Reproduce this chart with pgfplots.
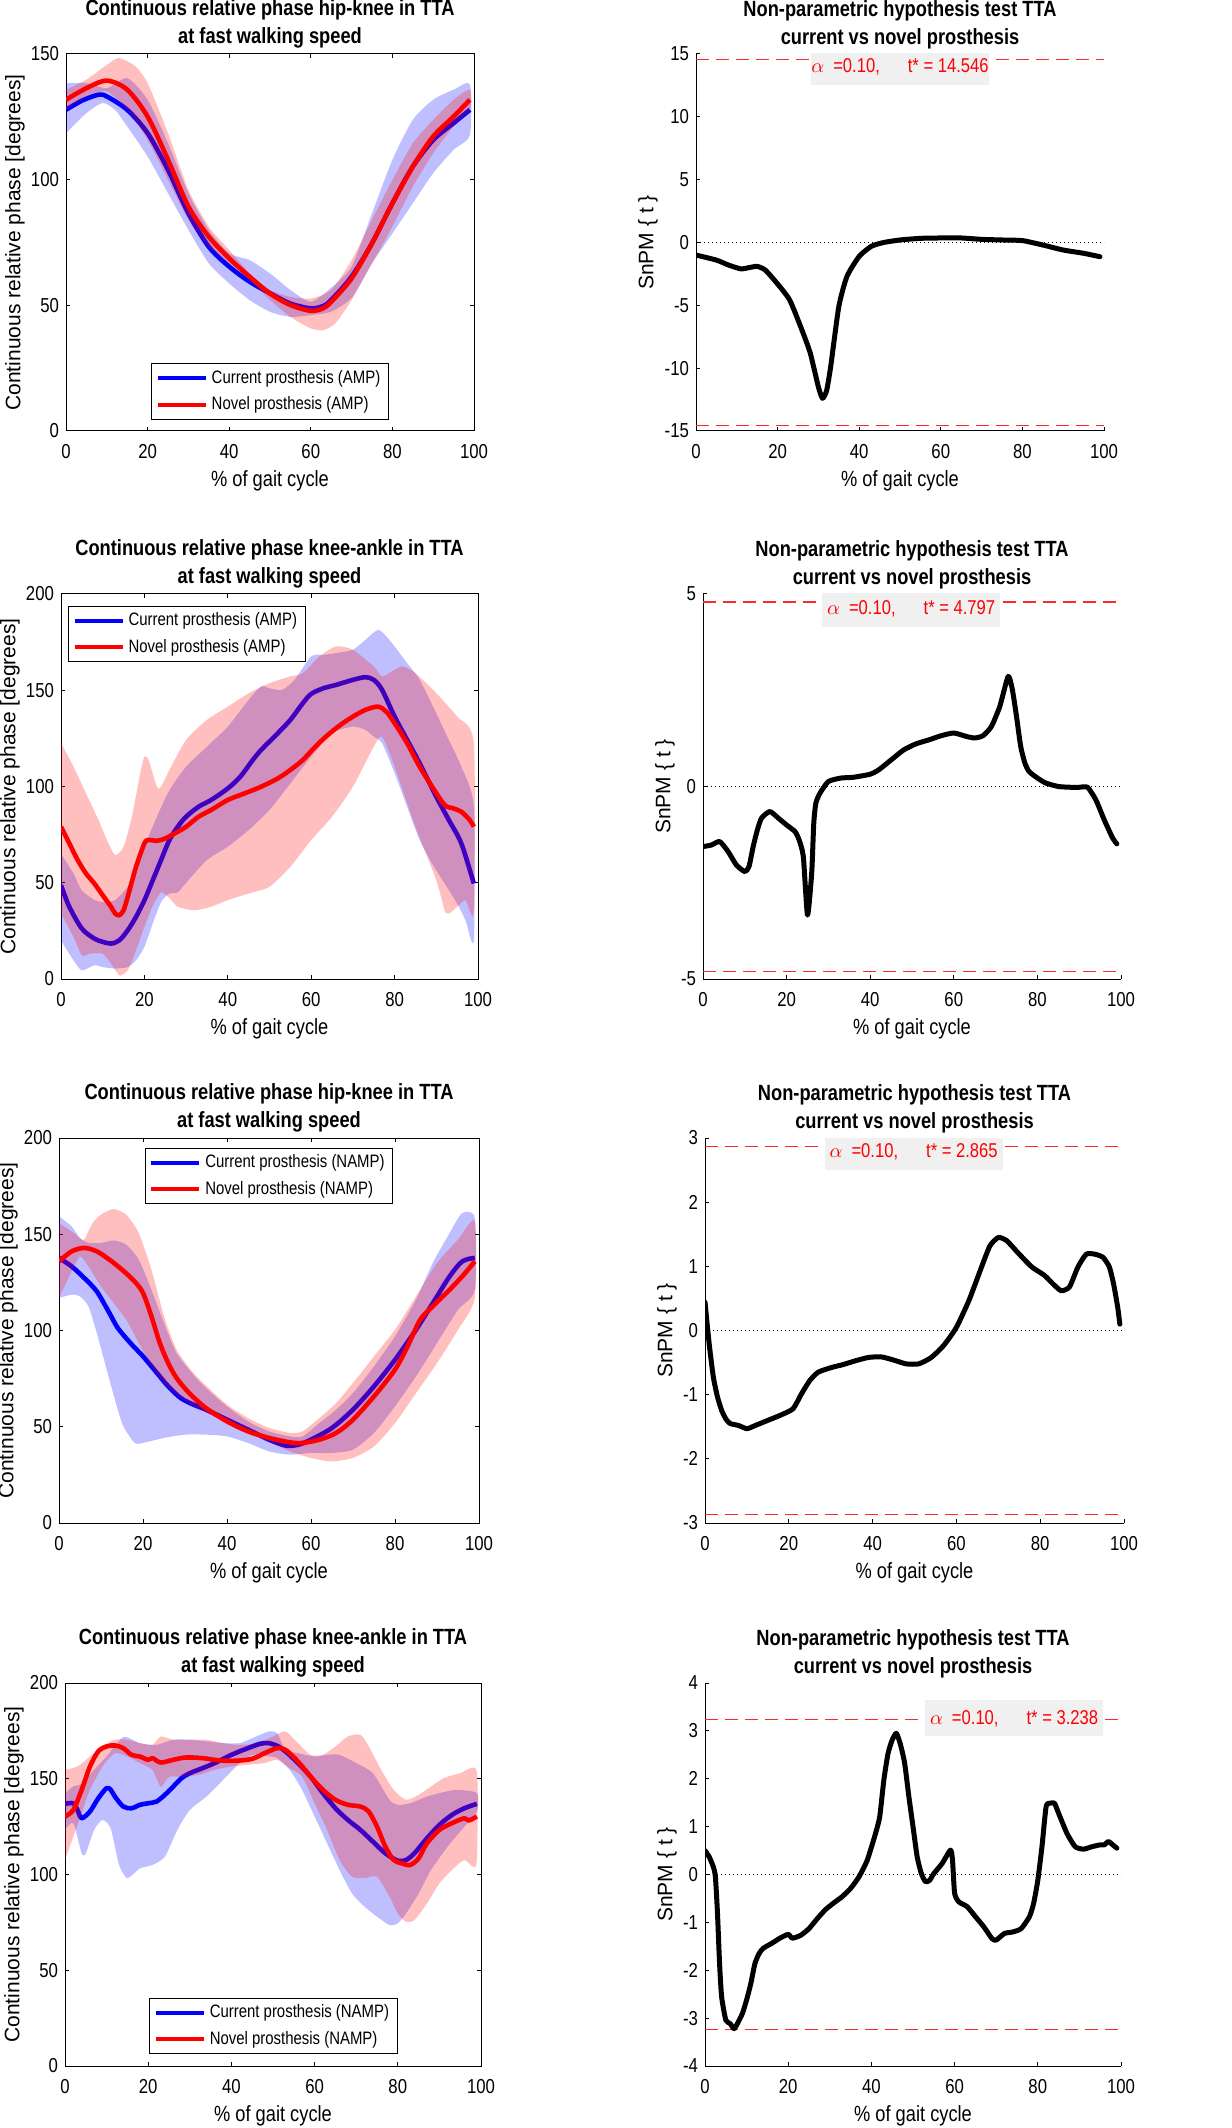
\documentclass[border=0pt]{standalone}
\usepackage{pgfplots}
\pgfplotsset{compat=1.18}
\usepackage{fontspec}
\setmainfont{Liberation Sans}[FakeStretch=0.83]
\newfontfamily\ylabfont{Liberation Sans}
\definecolor{boxgray}{RGB}{240,240,240}
\definecolor{thr}{RGB}{255,40,40}

\tikzset{tbox/.style={fill=boxgray, text=red, font=\fontsize{10}{12}\selectfont, minimum width=89pt, minimum height=18pt, inner sep=0pt}}

\pgfplotsset{
  common/.style={
    scale only axis,
    xmin=0, xmax=100, xtick={0,20,40,60,80,100},
    tick align=inside, major tick length=2pt,
    every tick/.style={black, line width=0.5pt},
    axis line style={black, line width=0.5pt},
    tick label style={font=\fontsize{10.1}{12}\selectfont},
    xticklabel style={yshift=-3pt},
    /pgf/number format/assume math mode=true,
    xlabel={\% of gait cycle},
    every axis x label/.style={at={([yshift=-25pt]axis description cs:0.5,0)}, anchor=center, font=\fontsize{11}{13}\selectfont},
    every axis title/.style={at={([yshift=2.5pt]axis description cs:0.5,1)}, anchor=south, align=center, inner sep=0pt, font=\bfseries\fontsize{11}{14}\selectfont},
  },
  leftpanel/.style={
    common, ymin=0,
    ylabel={Continuous relative phase [degrees]},
    every axis y label/.style={at={([xshift=-25.5pt]axis description cs:0,0.5)}, rotate=90, anchor=center, font=\ylabfont\fontsize{10.5}{12}\selectfont},
    legend style={font=\fontsize{9}{10}\selectfont, draw=black, line width=0.5pt, fill=white, inner xsep=2pt, inner ysep=1.2pt, row sep=1.2pt, cells={anchor=west}},
    legend image code/.code={\draw[##1, line width=2pt] (0pt,0pt) -- (24pt,0pt);},
  },
  rightpanel/.style={
    common,
    axis x line*=bottom, axis y line*=left,
    xtick pos=left, ytick pos=left, tick align=inside,
    axis line style={-, black, line width=0.5pt},
    ylabel={SnPM \{ t \}},
    every axis y label/.style={at={([xshift=-#1]axis description cs:0,0.5)}, rotate=90, anchor=center, font=\ylabfont\fontsize{10.5}{12}\selectfont},
  },
  bband/.style={draw=none, fill=blue, fill opacity=0.25, forget plot, smooth, tension=0.4},
  rband/.style={draw=none, fill=red, fill opacity=0.25, forget plot, smooth, tension=0.4},
  bline/.style={blue, line width=2.3pt, smooth, tension=0.5, line join=round},
  rline/.style={red, line width=2.3pt, smooth, tension=0.5, line join=round},
  snpm/.style={black, line width=2.5pt, smooth, tension=0.35, line join=round, line cap=round},
  thrline/.style={thr, line width=0.7pt, dash pattern=on 6.5pt off 3.5pt, forget plot},
  zline/.style={black, line width=0.55pt, dash pattern=on 0.6pt off 1.4pt, forget plot},
}

\begin{document}
\begin{tikzpicture}
\useasboundingbox (0,0) rectangle (615.5pt,-1064pt);

% ---------------- Panel 1 ----------------
\begin{axis}[leftpanel, at={(33pt,-27pt)}, anchor=north west, width=204pt, height=188.5pt,
  ymax=150, ytick={0,50,100,150},
  title={Continuous relative phase hip-knee in TTA\\at fast walking speed},
  legend style={at={(0.5,0.03)}, anchor=south}]
\addplot[bband] coordinates {(0,138.4)(5,138.4)(10,136.4)(15,140.4)(20,131.8)(25,114.5)(30,94.6)(35,80)(40,70.7)(45,68)(50,62.7)(55,56.1)(60,51.4)(65,57)(70,65.4)(75,86.6)(80,107.9)(85,123.8)(90,131.8)(95,135.8)(99,137.8)
 (99,117.8)(95,111.9)(90,102.6)(85,90.6)(80,78.6)(75,66.7)(70,53)(65,47.5)(60,46.1)(55,45.4)(50,47.4)(45,52.1)(40,58.7)(35,66.7)(30,80)(25,94.6)(20,109.2)(15,121.2)(12,127.8)(9,130.5)(5,126.5)(0,118.5)} -- cycle;
\addplot[bline] coordinates {(0,127.8)(4,131.5)(8,133.8)(10,133.1)(15,127.8)(20,118.5)(25,103.9)(30,86.6)(35,73.3)(40,65.4)(45,59.4)(50,54.8)(55,50.7)(60,48.8)(63,49.7)(65,52.1)(70,61.4)(75,74.7)(80,90.6)(85,105.2)(90,115.8)(95,122.5)(99,127.8)};
\addlegendentry{Current prosthesis (AMP)}
\addplot[rband] coordinates {(0,135.8)(5,139.8)(10,145.7)(13,148.4)(17,145.1)(20,138.4)(25,118.5)(30,95.9)(35,81.3)(40,72)(45,62.7)(50,56.1)(55,53.4)(60,52.7)(65,56.1)(70,68)(75,84)(80,99.9)(85,114.5)(90,123.8)(95,131.8)(99,135.8)
 (99,127.8)(95,121.2)(90,110.5)(85,97.2)(80,81.3)(75,66.7)(70,52.1)(66,42.8)(63,40.1)(60,40.8)(55,45.4)(50,52.1)(45,60.1)(40,66.7)(35,73.3)(30,84)(25,99.9)(20,115.8)(15,127.8)(10,135.1)(5,133.1)(0,127.8)} -- cycle;
\addplot[rline] coordinates {(0,131.8)(5,136.4)(10,139.4)(15,135.8)(20,125.1)(25,107.9)(30,89.3)(35,77.3)(40,68.7)(45,61.4)(50,54.7)(55,50.1)(60,47.8)(63,48.8)(65,51.4)(70,60.7)(75,74.7)(80,90.6)(85,105.2)(90,117.2)(95,125.1)(99,131.8)};
\addlegendentry{Novel prosthesis (AMP)}
\end{axis}

% ---------------- Panel 2 ----------------
\begin{axis}[rightpanel=24pt, at={(348pt,-27pt)}, anchor=north west, width=204pt, height=188.5pt,
  ymin=-15, ymax=15, ytick={-15,-10,-5,0,5,10,15},
  title={Non-parametric hypothesis test TTA\\current vs novel prosthesis}]
\addplot[zline] coordinates {(0,0)(100,0)};
\addplot[thrline] coordinates {(0,14.546)(100,14.546)};
\addplot[thrline] coordinates {(0,-14.546)(100,-14.546)};
\addplot[snpm] coordinates {(0,-1.0)(5,-1.4)(8,-1.8)(11,-2.1)(13,-2.0)(15,-1.9)(17,-2.2)(20,-3.3)(23,-4.6)(26,-7.0)(28,-8.8)(30,-11.5)(31,-12.4)(32,-11.8)(33,-9.9)(35,-5.1)(37,-2.7)(40,-1.1)(43,-0.3)(46,0)(50,0.2)(55,0.33)(60,0.36)(65,0.36)(70,0.25)(75,0.2)(80,0.15)(85,-0.2)(90,-0.6)(95,-0.86)(99,-1.13)};
\node[tbox] at (axis cs:50,14) {$\alpha$\hspace{0.45em}=0.10,\hspace{1.4em}t* = 14.546};
\end{axis}

% ---------------- Panel 3 ----------------
\begin{axis}[leftpanel, at={(30.5pt,-297pt)}, anchor=north west, width=208.5pt, height=192.5pt,
  ymax=200, ytick={0,50,100,150,200},
  title={Continuous relative phase knee-ankle in TTA\\at fast walking speed},
  legend style={at={(0.017,0.969)}, anchor=north west}]
\addplot[bband] coordinates {(0,65)(3,54.8)(5,46)(8,41)(10,40)(13,41)(16,48)(18,56.5)(20,68.7)(23,84.3)(26,98)(30,110.3)(35,120.7)(40,131.1)(45,145)(48,152)(50,151)(53,150.2)(56,155.4)(60,167.6)(63,168.4)(66,169.3)(70,171)(73,176.2)(76,181.4)(78,178)(80,172.8)(83,164.1)(86,155.4)(90,138)(93,124.2)(96,110.3)(99,89.5)
 (99,20.1)(97,30.5)(95,39.2)(92,49.6)(89,60)(86,72.2)(83,89.5)(80,106.9)(77,122.5)(75,125.9)(73,129.4)(70,131.1)(65,127.7)(60,115.5)(55,101.6)(50,87.8)(45,77.4)(40,68.7)(35,61.8)(30,50)(28,45)(26,44.4)(24,40)(22,28.8)(20,16.7)(18,9.7)(16,6.2)(13,5.4)(10,6.2)(8,7.1)(5,4.5)(3,9.7)(0,20)} -- cycle;
\addplot[bline] coordinates {(0,48.7)(2,37.5)(5,26.2)(8,21)(10,19.3)(12,18.4)(14,20.1)(16,25.3)(18,32.3)(20,40.9)(22,51.3)(24,61.8)(26,72.2)(28,79.1)(30,84.3)(33,89.5)(36,93)(40,99)(43,105.1)(46,113.8)(48,119)(52,127.7)(55,134.6)(58,143.3)(60,148.1)(63,151.1)(66,152.8)(70,155.4)(73,156.8)(75,155.4)(77,150.2)(80,136.3)(83,124.2)(86,112.1)(90,94.7)(93,82.6)(96,70.4)(99,49.6)};
\addlegendentry{Current prosthesis (AMP)}
\addplot[rband] coordinates {(0,122.5)(3,110.3)(6,96.4)(9,82.6)(11,72.2)(13,64.4)(15,68.7)(17,84.3)(19,106.9)(20,115.5)(21,113.8)(23,99.9)(24,99.9)(26,108.6)(30,124.2)(35,134.6)(40,141.5)(45,148.4)(50,153.7)(55,157.2)(58,158.9)(62,167.6)(66,172.8)(70,171)(75,162.4)(77,157.2)(80,160.7)(82,162.4)(85,158.9)(90,148.4)(95,136.3)(99,122.5)
 (99,35.7)(97,41)(95,37.5)(93,34)(92,35.7)(90,51.3)(85,79.1)(80,110.3)(77,125.9)(75,120.7)(70,99.9)(65,84.3)(60,72.2)(55,58.3)(50,47.9)(45,44.4)(40,41)(36,37.5)(32,35.7)(28,37.5)(26,42)(24,45)(22,38)(20,27)(18,14.9)(16,4.5)(14,1.9)(12,8)(10,13.2)(7,13.2)(5,12.3)(3,21.9)(0,34)} -- cycle;
\addplot[rline] coordinates {(0,79.1)(2,70.4)(4,61.8)(6,54.8)(8,49.6)(10,43.5)(12,37.5)(13,34)(14,33.1)(15,35.7)(16,42.7)(18,58.3)(20,70.4)(21,72.2)(23,71.8)(25,73)(28,76.5)(30,79.1)(33,84.3)(36,87.8)(40,93)(44,96.4)(48,99.9)(52,104.2)(55,108.6)(58,113.8)(61,120.7)(64,126.8)(67,132)(70,136.3)(73,139.8)(76,141.5)(78,138.9)(80,132.9)(83,122.5)(86,110.3)(89,99.9)(92,90.4)(94,88.7)(96,86.9)(98,82.6)(99,79.1)};
\addlegendentry{Novel prosthesis (AMP)}
\end{axis}

% ---------------- Panel 4 ----------------
\begin{axis}[rightpanel=19pt, at={(351.5pt,-297pt)}, anchor=north west, width=209pt, height=192.5pt,
  ymin=-5, ymax=5, ytick={-5,0,5},
  title={Non-parametric hypothesis test TTA\\current vs novel prosthesis}]
\addplot[zline] coordinates {(0,0)(100,0)};
\addplot[thrline] coordinates {(0,4.797)(100,4.797)};
\addplot[thrline] coordinates {(0,-4.797)(100,-4.797)};
\addplot[snpm] coordinates {(0,-1.56)(2,-1.52)(4,-1.43)(6,-1.69)(8,-2.04)(10,-2.21)(11,-2.08)(12,-1.56)(13,-1.13)(14,-0.82)(16,-0.65)(18,-0.82)(20,-1.0)(22,-1.17)(23,-1.39)(24,-1.82)(25,-3.34)(26,-2.25)(26.5,-0.95)(27,-0.43)(28,-0.17)(30,0.13)(33,0.22)(36,0.24)(40,0.32)(42,0.43)(45,0.69)(48,0.95)(51,1.11)(54,1.21)(57,1.32)(60,1.39)(63,1.30)(65,1.26)(67,1.32)(69,1.56)(71,2.08)(73,2.86)(74,2.52)(75,1.82)(76,1.04)(77,0.61)(78,0.39)(80,0.22)(82,0.09)(85,0)(88,-0.02)(90,-0.02)(92,-0.02)(94,-0.35)(96,-0.87)(98,-1.34)(99,-1.49)};
\node[tbox] at (axis cs:49.8,4.61) {$\alpha$\hspace{0.45em}=0.10,\hspace{1.4em}t* = 4.797};
\end{axis}

% ---------------- Panel 5 ----------------
\begin{axis}[leftpanel, at={(29.5pt,-569pt)}, anchor=north west, width=210pt, height=192.5pt,
  ymax=200, ytick={0,50,100,150,200},
  title={Continuous relative phase hip-knee in TTA\\at fast walking speed},
  legend style={at={(0.5,0.974)}, anchor=north}]
\addplot[bband] coordinates {(0,159.3)(3,154.1)(5,148)(7,145.5)(10,145.5)(13,146.8)(16,144.6)(19,136.8)(22,121.2)(25,103.9)(28,88.3)(33,74.5)(39,62.3)(45,52.8)(50,47.6)(55,45)(58,45)(62,51.9)(66,58.9)(70,67.5)(75,81.4)(80,97)(85,116)(89,135.1)(93,150.6)(96,161)(99,158.4)
 (99,121.2)(95,110.8)(90,93.5)(85,76.2)(80,60.6)(75,46.8)(70,38.1)(65,36.4)(60,36.4)(55,35.5)(50,37.2)(45,41.6)(40,45)(35,45.9)(30,45.9)(25,44.2)(20,41.6)(18,41.6)(15,51.9)(12,74.5)(9,98.7)(7,112.6)(5,117.7)(3,118.6)(0,116.9)} -- cycle;
\addplot[bline] coordinates {(0,137.7)(3,133.3)(6,127.3)(9,120.3)(12,109.1)(14,101.3)(17,93.5)(20,86.6)(23,78.8)(26,71)(29,64.9)(32,61.5)(35,58.9)(40,53.7)(45,48.5)(50,43.3)(54,40.2)(57,40.7)(60,43.3)(65,49.4)(70,58.9)(75,71)(80,84.8)(85,100.4)(90,117.7)(93,128.1)(96,135.9)(99,137.7)};
\addlegendentry{Current prosthesis (NAMP)}
\addplot[rband] coordinates {(0,155.8)(3,151.5)(5,148)(6,147.2)(8,155.8)(10,160.2)(13,163.1)(16,160.2)(19,150.6)(22,131.6)(25,107.4)(28,90)(32,77.9)(36,69.3)(40,61.5)(45,54.5)(50,49.4)(55,46.8)(58,47.6)(62,54.5)(66,62.3)(70,72.7)(75,86.6)(80,100.4)(85,117.7)(90,135.1)(95,147.2)(99,156.7)
 (99,116.9)(95,100.4)(90,83.1)(85,67.5)(80,51.9)(75,39.8)(70,33.8)(65,32)(60,33.8)(55,37.2)(50,42.4)(45,46.8)(40,51.9)(36,56.3)(32,60.6)(28,66.7)(25,72.7)(22,81.4)(19,93.5)(16,105.6)(13,114.3)(10,122.9)(7,133.3)(5,138.5)(3,130.7)(0,116.9)} -- cycle;
\addplot[rline] coordinates {(0,135.9)(3,141.1)(6,142.9)(9,141.1)(12,136.8)(15,131.6)(18,125.5)(20,119.5)(22,107.4)(24,93.5)(26,83.1)(28,75.3)(31,67.5)(35,59.7)(40,52.8)(45,47.6)(50,44.2)(55,41.9)(58,41.6)(62,43.3)(66,46.8)(70,53.7)(75,65.8)(80,79.7)(83,91.8)(86,105.6)(89,112.6)(93,121.2)(96,128.1)(99,135.9)};
\addlegendentry{Novel prosthesis (NAMP)}
\end{axis}

% ---------------- Panel 6 ----------------
\begin{axis}[rightpanel=19pt, at={(352.5pt,-569pt)}, anchor=north west, width=209.5pt, height=192.5pt,
  ymin=-3, ymax=3, ytick={-3,-2,-1,0,1,2,3},
  title={Non-parametric hypothesis test TTA\\current vs novel prosthesis}]
\addplot[zline] coordinates {(0,0)(100,0)};
\addplot[thrline] coordinates {(0,2.865)(100,2.865)};
\addplot[thrline] coordinates {(0,-2.865)(100,-2.865)};
\addplot[snpm] coordinates {(0,0.44)(1,-0.21)(2,-0.73)(3,-1.04)(4,-1.25)(5,-1.38)(6,-1.45)(8,-1.48)(10,-1.53)(12,-1.48)(15,-1.40)(18,-1.32)(21,-1.22)(23,-0.99)(25,-0.78)(27,-0.65)(30,-0.58)(33,-0.53)(36,-0.47)(39,-0.42)(42,-0.41)(45,-0.46)(48,-0.52)(51,-0.52)(54,-0.42)(57,-0.23)(60,0.05)(63,0.47)(66,0.99)(68,1.32)(70,1.45)(72,1.40)(75,1.19)(78,0.99)(81,0.86)(83,0.73)(85,0.62)(87,0.68)(89,0.99)(91,1.19)(93,1.19)(95,1.14)(96.5,0.99)(97.5,0.73)(98.5,0.36)(99,0.10)};
\node[tbox] at (axis cs:49.8,2.78) {$\alpha$\hspace{0.45em}=0.10,\hspace{1.4em}t* = 2.865};
\end{axis}

% ---------------- Panel 7 ----------------
\begin{axis}[leftpanel, at={(32.5pt,-841.5pt)}, anchor=north west, width=208pt, height=191.5pt,
  ymax=200, ytick={0,50,100,150,200},
  title={Continuous relative phase knee-ankle in TTA\\at fast walking speed},
  legend style={at={(0.501,0.031)}, anchor=south}]
\addplot[bband] coordinates {(0,142.5)(2,146)(4,147.4)(7,154.7)(10,161.6)(14,171.8)(18,168.6)(22,167.7)(26,170.4)(30,170.4)(34,169.5)(38,168.6)(42,168.6)(46,172.1)(49,174.7)(51,173.8)(53,165.1)(56,163.4)(60,161.6)(63,162.5)(66,162.5)(70,158.2)(74,152.9)(78,139)(80,136.4)(83,137.2)(87,140.7)(90,142.5)(94,144.2)(99,142.5)
 (99,132.9)(96,125)(92,114.6)(88,102.4)(85,90.1)(82,79.7)(80,74.5)(78,73.6)(75,78)(72,83.2)(69,90.1)(66,102.4)(63,116.3)(60,130.3)(57,144.2)(54,154.7)(51,160.8)(48,161.9)(45,162.5)(42,158.2)(38,149.4)(34,140.7)(30,133.7)(27,123.3)(24,109.3)(21,105)(18,103.2)(15,98.1)(13,105)(11,124)(9,128.5)(7,123.3)(5,111.1)(4,111.1)(2,126.8)(0,123.3)} -- cycle;
\addplot[bline] coordinates {(0,136.9)(2,137.2)(3,133.7)(4,129.4)(6,132.9)(8,139.8)(10,145.1)(11,144.2)(12,140.7)(14,135.5)(16,134.6)(18,136.4)(20,137.2)(22,138.1)(24,141.6)(26,145.9)(28,150.3)(30,152.9)(33,155.5)(36,158.2)(40,162.5)(44,166)(47,168.3)(49,168.6)(51,167.2)(53,164.3)(56,158.2)(59,151.2)(62,142.5)(65,134.6)(68,128.5)(71,123.3)(74,117.2)(77,111.1)(80,107.2)(82,107.6)(84,111.1)(87,118.9)(90,125.9)(93,131.1)(96,134.6)(99,136.9)};
\addlegendentry{Current prosthesis (NAMP)}
\addplot[rband] coordinates {(0,154.7)(3,156.4)(6,161.6)(9,166.9)(12,170.4)(15,170.4)(18,168.6)(21,167.7)(23,172.1)(26,170.4)(30,170.4)(34,170.4)(38,168.6)(42,167.7)(46,168.6)(50,172.1)(53,174.7)(56,168.6)(59,162.5)(62,162.5)(65,166.9)(68,172.1)(71,173)(73,166.9)(76,154.7)(79,144.2)(82,139)(85,141.6)(88,146)(91,150.3)(95,152.9)(99,153.8)
 (99,107.6)(98,104.2)(96,107.6)(93,102.4)(90,95.4)(87,84.9)(84,76.2)(82,75.3)(80,79.7)(78,88.4)(75,98.9)(72,98.1)(69,98.9)(66,107.6)(63,123.3)(60,137.2)(57,151.2)(54,155.5)(51,159.9)(48,158.2)(44,157.3)(40,156.4)(36,154.7)(32,152)(28,151)(25,151)(23,145.9)(21,154.7)(18,158.2)(15,161.6)(12,163.4)(9,156.4)(6,144.2)(4,132)(2,119.8)(0,107.6)} -- cycle;
\addplot[rline] coordinates {(0,130.3)(2,133.7)(4,144.2)(6,156.4)(8,164.3)(10,166.9)(12,167.4)(14,166)(16,162.5)(18,161.6)(20,159.9)(21,160.8)(23,158.5)(26,159.9)(29,161.1)(33,160.8)(37,159.6)(41,159.4)(45,160.4)(48,163.4)(51,166)(53,165.1)(56,159)(59,151.2)(62,144.2)(65,139)(68,136.4)(71,135.5)(73,132.9)(75,125)(77,114.6)(79,107.6)(81,105.8)(83,105)(85,108.5)(87,116.3)(90,123.3)(93,126.8)(96,129.4)(97,128.2)(99,130.3)};
\addlegendentry{Novel prosthesis (NAMP)}
\end{axis}

% ---------------- Panel 8 ----------------
\begin{axis}[rightpanel=19pt, at={(352.5pt,-841.5pt)}, anchor=north west, width=208pt, height=191.5pt,
  ymin=-4, ymax=4, ytick={-4,-3,-2,-1,0,1,2,3,4},
  title={Non-parametric hypothesis test TTA\\current vs novel prosthesis}]
\addplot[zline] coordinates {(0,0)(100,0)};
\addplot[thrline] coordinates {(0,3.238)(100,3.238)};
\addplot[thrline] coordinates {(0,-3.238)(100,-3.238)};
\addplot[snpm] coordinates {(0,0.50)(1,0.37)(2,0.16)(2.5,-0.05)(3,-0.81)(3.5,-1.86)(4,-2.56)(5,-3.04)(6,-3.11)(7,-3.22)(8,-3.08)(9,-2.90)(10,-2.62)(11,-2.28)(12,-1.86)(13,-1.65)(14,-1.54)(16,-1.44)(18,-1.33)(20,-1.25)(21,-1.33)(23,-1.27)(25,-1.13)(27,-0.92)(29,-0.73)(31,-0.59)(33,-0.46)(35,-0.29)(37,-0.05)(39,0.30)(41,0.86)(42,1.21)(43,1.98)(44,2.53)(45,2.81)(46,2.95)(47,2.71)(48,2.32)(49,1.63)(50,1.00)(51,0.37)(52,0.02)(53,-0.15)(54,-0.12)(55,0.02)(57,0.23)(59,0.51)(59.5,0.30)(60,-0.39)(61,-0.57)(63,-0.67)(65,-0.88)(67,-1.09)(69,-1.34)(70,-1.37)(72,-1.23)(74,-1.20)(76,-1.13)(78,-0.88)(79,-0.60)(80,-0.12)(81,0.58)(82,1.42)(83,1.49)(84,1.49)(85,1.28)(87,0.86)(89,0.58)(91,0.53)(93,0.58)(95,0.62)(96,0.62)(97,0.69)(98,0.62)(99,0.55)};
\node[tbox] at (axis cs:74.3,3.26) {$\alpha$\hspace{0.45em}=0.10,\hspace{1.4em}t* = 3.238};
\end{axis}
\end{tikzpicture}
\end{document}
